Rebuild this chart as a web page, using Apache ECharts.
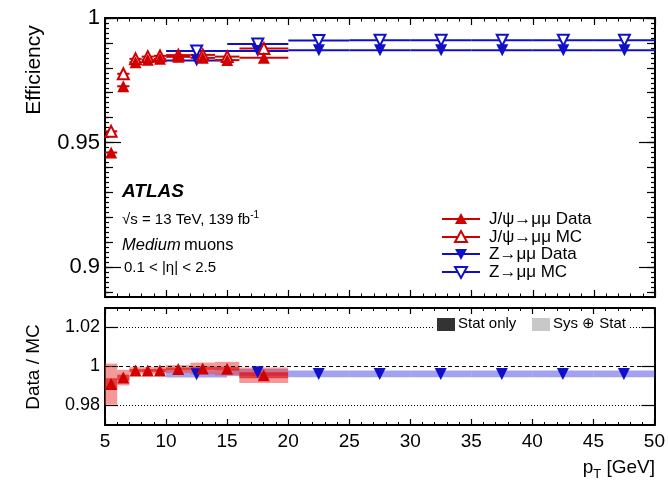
<!DOCTYPE html>
<html><head><meta charset="utf-8">
<script src="https://cdn.jsdelivr.net/npm/echarts@6/dist/echarts.min.js"></script>
<style>html,body{margin:0;padding:0;background:#fff}#c{width:668px;height:486px}</style>
</head><body><div id="c"></div>
<script>
// ---- data ----
const jpsiLo = [5, 6, 7, 8, 9, 10, 12, 14, 16];
const jpsiHi = [6, 7, 8, 9, 10, 12, 14, 16, 20];
const jpsiX = [5.5, 6.5, 7.5, 8.5, 9.5, 11, 13, 15, 18];
const jpsiData = [0.946, 0.9726, 0.9822, 0.9832, 0.9836, 0.9844, 0.9840, 0.9831, 0.9840];
const jpsiMC = [0.9545, 0.9776, 0.9836, 0.9845, 0.9848, 0.9851, 0.9852, 0.9845, 0.9878];
const jpsiRatio = [0.9910, 0.9943, 0.9979, 0.9979, 0.9980, 0.9987, 0.9990, 0.9989, 0.9955];
const jpsiSys = [0.0105, 0.0040, 0.0018, 0.0018, 0.0018, 0.0020, 0.0030, 0.0035, 0.0040];
const jpsiStat = [0.0030, 0.0015, 0.0008, 0.0008, 0.0008, 0.0008, 0.0010, 0.0010, 0.0015];

const zLo = [10, 15, 20, 25, 30, 35, 40, 45];
const zHi = [15, 20, 25, 30, 35, 40, 45, 50];
const zX = [12.5, 17.5, 22.5, 27.5, 32.5, 37.5, 42.5, 47.5];
const zData = [0.9829, 0.9868, 0.9871, 0.9871, 0.9871, 0.9871, 0.9871, 0.9871];
const zMC = [0.9868, 0.9896, 0.9910, 0.9911, 0.9911, 0.9911, 0.9911, 0.9911];
const zRatio = [0.9960, 0.9970, 0.9962, 0.9962, 0.9962, 0.9962, 0.9962, 0.9962];
const zSys = [0.0017, 0.0017, 0.0017, 0.0017, 0.0017, 0.0017, 0.0017, 0.0017];

const effLabels = [0.9, 0.95, 1];
const ratioLabels = [0.98, 1, 1.02];
const refLines = [1.02, 1, 0.98];

// ---- style ----
const RED = '#d10000', BLUE = '#1010c8';
const FONT = '"Liberation Sans", Arial, Helvetica, sans-serif';

function steps(a, b, s) { const out = []; for (let v = a; v <= b + 1e-9; v += s) out.push(+v.toFixed(4)); return out; }
const effMid = steps(0.89, 1.0, 0.01);
const effMinor = steps(0.888, 1.0, 0.002);

function hbar(color) {
  return function (params, api) {
    const p1 = api.coord([api.value(0), api.value(2)]);
    const p2 = api.coord([api.value(1), api.value(2)]);
    return { type: 'line', shape: { x1: p1[0], y1: p1[1], x2: p2[0], y2: p2[1] }, style: { stroke: color, lineWidth: 2 } };
  };
}
function box(fill) {
  return function (params, api) {
    const p1 = api.coord([api.value(0), api.value(2) + api.value(3)]);
    const p2 = api.coord([api.value(1), api.value(2) - api.value(3)]);
    return { type: 'rect', shape: { x: p1[0], y: p1[1], width: p2[0] - p1[0], height: p2[1] - p1[1] }, style: { fill: fill } };
  };
}

const L = 105, R = 13;
const grids = [
  { left: L, right: R, top: 18, height: 279 },
  { left: L, right: R, top: 308, height: 117 }
];
const lineStyle = { color: '#000', width: 2 };

function xAx(grid, pos, labels, tickLen) {
  return {
    type: 'value', gridIndex: grid, position: pos, min: 5, max: 50, interval: 5,
    axisLine: { show: true, onZero: false, lineStyle },
    axisTick: { show: true, inside: true, length: tickLen, lineStyle: { color: '#000', width: 1.2 } },
    minorTick: { show: true, splitNumber: 5, length: tickLen / 2, lineStyle: { color: '#000', width: 1 } },
    axisLabel: labels ? { show: true, fontSize: 19, color: '#000', fontFamily: FONT, margin: 7 } : { show: false },
    splitLine: { show: false }, minorSplitLine: { show: false }
  };
}
function yAx(grid, pos, min, max, ticks, len, labels, fs) {
  return {
    type: 'value', gridIndex: grid, position: pos, min, max,
    axisLine: { show: true, onZero: false, lineStyle },
    axisTick: { show: true, inside: true, length: len, customValues: ticks, lineStyle: { color: '#000', width: 1.2 } },
    axisLabel: labels ? { show: true, customValues: labels, fontSize: fs, color: '#000', fontFamily: FONT, margin: 5 } : { show: false },
    splitLine: { show: false }
  };
}

const MS = 11;
const option = {
  animation: false,
  backgroundColor: '#fff',
  grid: grids,
  xAxis: [
    xAx(0, 'bottom', false, 7), xAx(0, 'top', false, 7),
    xAx(1, 'bottom', true, 6), xAx(1, 'top', false, 6)
  ],
  yAxis: [
    yAx(0, 'left', 0.888, 1, effLabels, 16, effLabels, 22),
    yAx(0, 'left', 0.888, 1, effMid, 8, null),
    yAx(0, 'left', 0.888, 1, effMinor, 4, null),
    yAx(0, 'right', 0.888, 1, effLabels, 16, null),
    yAx(0, 'right', 0.888, 1, effMid, 8, null),
    yAx(0, 'right', 0.888, 1, effMinor, 4, null),
    yAx(1, 'left', 0.97, 1.03, ratioLabels, 13, ratioLabels, 18),
    yAx(1, 'right', 0.97, 1.03, ratioLabels, 13, null)
  ],
  series: [
    // top panel: horizontal bars
    { type: 'custom', xAxisIndex: 0, yAxisIndex: 0, renderItem: hbar(BLUE), encode: { x: [0, 1], y: 2 }, data: zLo.map((v, i) => [v, zHi[i], zMC[i]]), z: 2 },
    { type: 'custom', xAxisIndex: 0, yAxisIndex: 0, renderItem: hbar(BLUE), encode: { x: [0, 1], y: 2 }, data: zLo.map((v, i) => [v, zHi[i], zData[i]]), z: 2 },
    { type: 'custom', xAxisIndex: 0, yAxisIndex: 0, renderItem: hbar(RED), encode: { x: [0, 1], y: 2 }, data: jpsiLo.map((v, i) => [v, jpsiHi[i], jpsiMC[i]]), z: 3 },
    { type: 'custom', xAxisIndex: 0, yAxisIndex: 0, renderItem: hbar(RED), encode: { x: [0, 1], y: 2 }, data: jpsiLo.map((v, i) => [v, jpsiHi[i], jpsiData[i]]), z: 3 },
    // top markers
    { type: 'scatter', xAxisIndex: 0, yAxisIndex: 0, symbol: 'triangle', symbolSize: MS, symbolRotate: 180, itemStyle: { color: '#fff', borderColor: BLUE, borderWidth: 2, opacity: 1 }, data: zX.map((v, i) => [v, zMC[i]]), z: 4 },
    { type: 'scatter', xAxisIndex: 0, yAxisIndex: 0, symbol: 'triangle', symbolSize: MS + 1, symbolRotate: 180, itemStyle: { color: BLUE, opacity: 1 }, data: zX.map((v, i) => [v, zData[i]]), z: 4 },
    { type: 'scatter', xAxisIndex: 0, yAxisIndex: 0, symbol: 'triangle', symbolSize: MS, itemStyle: { color: '#fff', borderColor: RED, borderWidth: 2, opacity: 1 }, data: jpsiX.map((v, i) => [v, jpsiMC[i]]), z: 5 },
    { type: 'scatter', xAxisIndex: 0, yAxisIndex: 0, symbol: 'triangle', symbolSize: MS + 1, itemStyle: { color: RED, opacity: 1 }, data: jpsiX.map((v, i) => [v, jpsiData[i]]), z: 5 },
    // bottom panel bands
    { type: 'custom', xAxisIndex: 2, yAxisIndex: 6, renderItem: box('rgba(100,100,230,0.6)'), encode: { x: [0, 1], y: 2 }, data: zLo.map((v, i) => [v, zHi[i], zRatio[i], zSys[i]]), z: 2, clip: true },
    { type: 'custom', xAxisIndex: 2, yAxisIndex: 6, renderItem: box('rgba(235,70,70,0.55)'), encode: { x: [0, 1], y: 2 }, data: jpsiLo.map((v, i) => [v, jpsiHi[i], jpsiRatio[i], jpsiSys[i]]), z: 3, clip: true },
    { type: 'custom', xAxisIndex: 2, yAxisIndex: 6, renderItem: box('rgba(215,0,0,0.6)'), encode: { x: [0, 1], y: 2 }, data: jpsiLo.map((v, i) => [v, jpsiHi[i], jpsiRatio[i], jpsiStat[i]]), z: 3, clip: true },
    // bottom markers
    { type: 'scatter', xAxisIndex: 2, yAxisIndex: 6, symbol: 'triangle', symbolSize: MS + 1, symbolRotate: 180, itemStyle: { color: BLUE, opacity: 1 }, data: zX.map((v, i) => [v, zRatio[i]]), z: 6,
      markLine: { silent: true, symbol: 'none', label: { show: false }, z: 5,
        data: refLines.map(v => ({ yAxis: v, lineStyle: { color: '#000', width: 1, type: v === 1 ? [4, 3] : [1, 2] } })) } },
    { type: 'scatter', xAxisIndex: 2, yAxisIndex: 6, symbol: 'triangle', symbolSize: MS + 1, itemStyle: { color: RED, opacity: 1 }, data: jpsiX.map((v, i) => [v, jpsiRatio[i]]), z: 6 }
  ],
  graphic: []
};

const T = { fill: '#000', fontFamily: FONT };
const g = option.graphic;
// axis titles
g.push({ type: 'text', x: 34, y: 70, rotation: Math.PI / 2, style: Object.assign({ text: 'Efficiency', fontSize: 21, align: 'center', verticalAlign: 'middle' }, T) });
g.push({ type: 'text', x: 34, y: 367, rotation: Math.PI / 2, style: Object.assign({ text: 'Data / MC', fontSize: 19, align: 'center', verticalAlign: 'middle' }, T) });
g.push({ type: 'text', x: 655, y: 468, style: Object.assign({ text: '{a|p}{s|T}{a| [GeV]}', align: 'right', verticalAlign: 'middle',
  rich: { a: { fontSize: 19, fontFamily: FONT, fill: '#000' }, s: { fontSize: 13, fontFamily: FONT, fill: '#000', padding: [12, 0, 0, 0] } } }, T) });
// ATLAS labels
g.push({ type: 'text', x: 122, y: 192, style: Object.assign({ text: 'ATLAS', fontSize: 19, fontWeight: 'bold', fontStyle: 'italic', verticalAlign: 'middle' }, T) });
g.push({ type: 'text', x: 122, y: 220, style: Object.assign({ text: '{a|√s = 13 TeV, 139 fb}{b|-1}', verticalAlign: 'middle',
  rich: { a: { fontSize: 15, fontFamily: FONT, fill: '#000' }, b: { fontSize: 10, fontFamily: FONT, fill: '#000', padding: [0, 0, 10, 0] } } }, T) });
g.push({ type: 'text', x: 122, y: 245, style: Object.assign({ text: '{i|Medium} {a|muons}', verticalAlign: 'middle',
  rich: { i: { fontSize: 16.5, fontStyle: 'italic', fontFamily: FONT, fill: '#000' }, a: { fontSize: 16.5, fontFamily: FONT, fill: '#000' } } }, T) });
g.push({ type: 'text', x: 124, y: 268, style: Object.assign({ text: '0.1 < |η| < 2.5', fontSize: 15, verticalAlign: 'middle' }, T) });
// legend top
const legRows = [
  { y: 219, c: RED, up: true, fill: true, t: 'J/ψ→μμ Data' },
  { y: 237, c: RED, up: true, fill: false, t: 'J/ψ→μμ MC' },
  { y: 254, c: BLUE, up: false, fill: true, t: 'Z→μμ Data' },
  { y: 272, c: BLUE, up: false, fill: false, t: 'Z→μμ MC' }
];
legRows.forEach(r => {
  g.push({ type: 'line', shape: { x1: 442, y1: r.y, x2: 480, y2: r.y }, style: { stroke: r.c, lineWidth: 2 } });
  const pts = r.up ? [[455, r.y + 5], [467, r.y + 5], [461, r.y - 6]] : [[455, r.y - 5], [467, r.y - 5], [461, r.y + 6]];
  g.push({ type: 'polygon', shape: { points: pts }, style: { fill: r.fill ? r.c : '#fff', stroke: r.c, lineWidth: r.fill ? 0 : 2 } });
  g.push({ type: 'text', x: 489, y: r.y, style: Object.assign({ text: r.t, fontSize: 17, verticalAlign: 'middle' }, T) });
});
// legend bottom
g.push({ type: 'rect', z: 100, shape: { x: 433, y: 315, width: 196, height: 18 }, style: { fill: '#fff' } });
g.push({ type: 'rect', z: 101, shape: { x: 437, y: 318, width: 18, height: 13 }, style: { fill: '#333' } });
g.push({ type: 'text', z: 101, x: 458, y: 324, style: Object.assign({ text: 'Stat only', fontSize: 15, verticalAlign: 'middle' }, T) });
g.push({ type: 'rect', z: 101, shape: { x: 532, y: 318, width: 18, height: 13 }, style: { fill: '#c8c8c8' } });
g.push({ type: 'text', z: 101, x: 553, y: 324, style: Object.assign({ text: 'Sys ⊕ Stat', fontSize: 15, verticalAlign: 'middle' }, T) });

const chart = echarts.init(document.getElementById('c'), null, { renderer: 'canvas' });
chart.setOption(option);
</script>
</body></html>
